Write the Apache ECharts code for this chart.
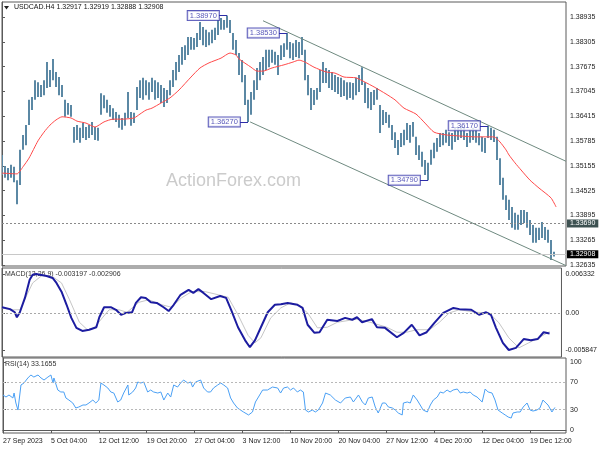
<!DOCTYPE html>
<html><head><meta charset="utf-8">
<script src="https://cdn.jsdelivr.net/npm/echarts@6/dist/echarts.min.js"></script>
<style>html,body{margin:0;padding:0;background:#fff}#c{width:600px;height:450px}</style>
</head><body><div id="c"></div>
<script>
const symbolTitle = 'USDCAD.H4 1.32917 1.32919 1.32888 1.32908';
const macdTitle = 'MACD(12,26,9) -0.003197 -0.002906';
const rsiTitle = 'RSI(14) 33.1655';
const watermark = 'ActionForex.com';
const xTickLabels = ['27 Sep 2023','5 Oct 04:00','12 Oct 12:00','19 Oct 20:00','27 Oct 04:00','3 Nov 12:00','10 Nov 20:00','20 Nov 04:00','27 Nov 12:00','4 Dec 20:00','12 Dec 04:00','19 Dec 12:00'];
const barsPerLabel = 16;
const priceTicks = [1.38935,1.38305,1.37675,1.37045,1.36415,1.35785,1.35155,1.34525,1.33895,1.33265,1.32635];
const macdTicks = [0.006332, 0, -0.005847];
const rsiTicks = [100, 70, 30, 0];

const highs = [
1.3543,1.3515,1.3510,1.3518,1.3513,1.3479,1.3556,1.3594,1.3619,1.3683,
1.3690,1.3733,1.3728,1.3721,1.3733,1.3779,1.3759,1.3787,1.3754,1.3741,
1.3721,1.3683,1.3675,1.3670,1.3614,1.3619,1.3612,1.3624,1.3614,1.3619,
1.3627,1.3614,1.3612,1.3700,1.3695,1.3683,1.3670,1.3662,1.3652,1.3645,
1.3637,1.3650,1.3703,1.3652,1.3650,1.3716,1.3733,1.3739,1.3733,1.3728,
1.3739,1.3733,1.3728,1.3721,1.3713,1.3708,1.3733,1.3759,1.3779,1.3797,
1.3817,1.3822,1.3843,1.3843,1.3840,1.3853,1.3881,1.3868,1.3861,1.3855,
1.3861,1.3866,1.3886,1.3891,1.3886,1.3897,1.3886,1.3853,1.3835,1.3802,
1.3784,1.3746,1.3683,1.3703,1.3733,1.3764,1.3779,1.3792,1.3810,1.3810,
1.3810,1.3805,1.3797,1.3822,1.3827,1.3853,1.3830,1.3827,1.3835,1.3830,
1.3843,1.3810,1.3746,1.3713,1.3708,1.3713,1.3759,1.3779,1.3764,1.3759,
1.3754,1.3746,1.3741,1.3739,1.3733,1.3728,1.3728,1.3726,1.3739,1.3746,
1.3766,1.3728,1.3713,1.3703,1.3708,1.3713,1.3670,1.3657,1.3652,1.3645,
1.3619,1.3601,1.3581,1.3599,1.3607,1.3624,1.3619,1.3627,1.3589,1.3568,
1.3551,1.3530,1.3523,1.3556,1.3574,1.3586,1.3599,1.3599,1.3607,1.3601,
1.3599,1.3612,1.3614,1.3617,1.3614,1.3599,1.3607,1.3612,1.3607,1.3599,
1.3589,1.3586,1.3617,1.3612,1.3607,1.3589,1.3535,1.3485,1.3441,1.3429,
1.3411,1.3396,1.3391,1.3403,1.3403,1.3398,1.3378,1.3365,1.3358,1.3358,
1.3373,1.3360,1.3353,1.3327,1.3297];
const lows = [
1.3492,1.3485,1.3479,1.3485,1.3474,1.3418,1.3467,1.3556,1.3568,1.3619,
1.3657,1.3683,1.3690,1.3690,1.3695,1.3713,1.3716,1.3733,1.3716,1.3695,
1.3690,1.3640,1.3645,1.3640,1.3574,1.3581,1.3574,1.3586,1.3581,1.3586,
1.3594,1.3581,1.3579,1.3645,1.3662,1.3650,1.3640,1.3632,1.3627,1.3612,
1.3607,1.3617,1.3637,1.3617,1.3624,1.3657,1.3688,1.3683,1.3695,1.3683,
1.3703,1.3683,1.3688,1.3675,1.3665,1.3675,1.3695,1.3716,1.3733,1.3754,
1.3772,1.3784,1.3797,1.3810,1.3810,1.3817,1.3835,1.3822,1.3817,1.3822,
1.3827,1.3835,1.3848,1.3861,1.3861,1.3866,1.3853,1.3810,1.3797,1.3746,
1.3728,1.3670,1.3627,1.3645,1.3683,1.3708,1.3733,1.3746,1.3759,1.3766,
1.3777,1.3772,1.3746,1.3784,1.3792,1.3810,1.3789,1.3784,1.3792,1.3789,
1.3797,1.3733,1.3695,1.3657,1.3670,1.3683,1.3703,1.3726,1.3726,1.3713,
1.3708,1.3703,1.3698,1.3690,1.3693,1.3683,1.3688,1.3683,1.3695,1.3703,
1.3721,1.3675,1.3662,1.3657,1.3670,1.3683,1.3599,1.3619,1.3624,1.3612,
1.3581,1.3561,1.3543,1.3563,1.3568,1.3581,1.3574,1.3589,1.3543,1.3530,
1.3513,1.3492,1.3479,1.3518,1.3535,1.3551,1.3563,1.3568,1.3574,1.3566,
1.3556,1.3576,1.3581,1.3586,1.3581,1.3563,1.3574,1.3581,1.3574,1.3568,
1.3551,1.3548,1.3586,1.3581,1.3576,1.3530,1.3467,1.3429,1.3403,1.3378,
1.3358,1.3353,1.3353,1.3365,1.3370,1.3358,1.3340,1.3320,1.3320,1.3327,
1.3332,1.3327,1.3320,1.3276,1.3285];

const maPoints = [[0,1.3497],[5,1.3495],[7,1.3513],[9,1.3535],[12,1.3579],[14,1.3601],[16,1.3619],[18,1.3632],[20,1.3640],[23,1.3637],[25,1.3629],[28,1.3624],[31,1.3614],[34,1.3627],[37,1.3634],[40,1.3634],[44,1.3637],[46,1.3647],[48,1.3657],[50,1.3662],[53,1.3675],[56,1.3688],[59,1.3708],[63,1.3741],[66,1.3764],[69,1.3777],[73,1.3789],[76,1.3802],[78,1.3797],[79,1.3787],[83,1.3766],[85,1.3756],[87,1.3756],[90,1.3764],[94,1.3772],[97,1.3779],[99,1.3784],[101,1.3779],[104,1.3766],[108,1.3754],[111,1.3751],[114,1.3741],[118,1.3739],[121,1.3728],[124,1.3716],[128,1.3698],[131,1.3683],[134,1.3662],[138,1.3647],[141,1.3624],[144,1.3601],[148,1.3594],[153,1.3591],[158,1.3589],[164,1.3589],[166,1.3576],[168,1.3556],[169,1.3543],[171,1.3523],[173,1.3505],[176,1.3479],[179,1.3459],[183,1.3434],[184.7,1.3411]];

const upperChannel = [[87,1.3884],[188,1.3527]];
const lowerChannel = [[82.7,1.3627],[188,1.3262]];
const levelDashed = 1.33690;
const lastPrice = 1.32908;
const annotBars = [75, 95, 82, 142, 162];
const annotPrices = [1.38970, 1.38530, 1.36270, 1.34790, 1.36170];

const macdMain = [[0,0.0010],[2.7,0.0007],[4.3,0.0002],[5,-0.0006],[6,0.0002],[7.7,0.0025],[9.3,0.0054],[10.3,0.0062],[11.5,0.006332],[12.7,0.0062],[15,0.0060],[17,0.0057],[18.3,0.0049],[20,0.0035],[21.7,0.0014],[23.3,-0.0007],[25,-0.0023],[27,-0.0028],[29.3,-0.0026],[31.7,-0.0022],[32.7,-0.0006],[34.3,0.0010],[36.7,0.0010],[38.3,0.0006],[40,-0.0002],[41.7,0.0001],[43.7,0.0002],[45,0.0017],[46.7,0.0026],[48.3,0.0025],[50,0.0018],[52,0.0017],[54.3,0.0010],[56,0.0004],[57.7,0.0014],[60,0.0030],[62.7,0.0038],[64.3,0.0033],[66,0.0039],[67.7,0.0033],[70.3,0.0023],[73.3,0.0028],[75.3,0.0025],[77,0.0006],[79.3,-0.0022],[81.7,-0.0043],[83.3,-0.0054],[85,-0.0043],[87,-0.0022],[89.3,0.0002],[91.7,0.0014],[93.7,0.0015],[96,0.0017],[98.3,0.0015],[99.3,0.0014],[101,0.0009],[102.7,-0.0018],[105,-0.0031],[106.7,-0.0030],[109.3,-0.0010],[112.7,-0.0012],[115.3,-0.0007],[117.7,-0.0010],[119.3,-0.0006],[121,-0.0014],[124.3,-0.0009],[126,-0.0022],[128.7,-0.0023],[132.7,-0.0038],[135,-0.0031],[137.7,-0.0018],[140.3,-0.0035],[142.7,-0.0030],[145.3,-0.0015],[148.3,0.0001],[151.7,0.0009],[153.7,0.0007],[157.7,0.0006],[160.3,-0.0002],[162.7,0.0002],[164.3,-0.0002],[166,-0.0023],[168.3,-0.0047],[170.3,-0.005847],[172.7,-0.0055],[175.3,-0.0041],[177.7,-0.0043],[180,-0.0041],[182,-0.0030],[184,-0.003197]];
const macdSignal = [[0,0.0009],[3,0.0006],[6,0.0006],[10.3,0.0049],[13.7,0.0062],[17,0.0059],[20,0.0049],[22.7,0.0022],[26,-0.0014],[28.7,-0.0026],[31,-0.0023],[33.7,-0.0007],[36,0.0006],[39.3,0.0006],[42,0.0002],[46,0.0018],[49.3,0.0022],[53.7,0.0014],[57,0.0010],[60.3,0.0025],[63.7,0.0035],[68.3,0.0035],[72.7,0.0030],[76,0.0026],[79.3,-0.0002],[82.7,-0.0035],[85,-0.0047],[87,-0.0039],[90.3,-0.0007],[93.7,0.0009],[97,0.0017],[99.3,0.0014],[102.7,0.0001],[106,-0.0023],[109.3,-0.0022],[112.7,-0.0014],[119.3,-0.0009],[123.7,-0.0014],[129.3,-0.0022],[132.7,-0.0030],[136,-0.0030],[139.3,-0.0026],[143.7,-0.0026],[147,-0.0014],[150.3,0.0001],[153.7,0.0006],[159.3,0.0002],[163.7,0.0001],[167,-0.0015],[170.3,-0.0039],[173.7,-0.0055],[177,-0.0047],[180.3,-0.0039],[184,-0.002906]];

const rsiPoints = [[0,51.5],[1,48.5],[2,51.5],[3.3,47.1],[3.7,54.4],[4.3,39.7],[5,29.4],[6,66.2],[7,69.1],[8.3,76.5],[9.3,80.9],[10.3,77.9],[11.7,80.9],[12.7,76.5],[13.7,73.5],[15,77.9],[16,80.9],[16.7,69.1],[17,76.5],[18.3,58.8],[19.3,55.9],[20.3,55.9],[21,47.1],[22,44.1],[23.3,39.7],[24.3,32.4],[25.3,33.8],[26.7,36.8],[27.7,36.8],[28.7,39.7],[30,44.1],[31,39.7],[32,44.1],[32.7,69.1],[33.7,66.2],[35,61.8],[36,55.9],[37,54.4],[38.3,41.2],[39.3,44.1],[40.3,54.4],[41.7,66.2],[42,51.5],[43.3,55.9],[44.3,61.8],[45,70.6],[46,69.1],[47,70.6],[48.3,55.9],[49.3,58.8],[50.3,55.9],[51.7,54.4],[52.7,55.9],[53.7,44.1],[55,54.4],[56,48.5],[57,66.2],[58.3,63.2],[59.3,69.1],[60.3,73.5],[61.7,69.1],[62.7,70.6],[63.3,63.2],[64.3,70.6],[66,73.5],[67,61.8],[68.3,55.9],[69.3,55.9],[70.3,61.8],[71.7,66.2],[72.7,69.1],[73.7,66.2],[75,61.8],[76,47.1],[77,39.7],[78.3,32.4],[79.3,29.4],[80.3,26.5],[82,22.1],[83.3,26.5],[84.3,41.2],[85.3,48.5],[86.7,58.8],[88.3,58.8],[90,63.2],[91.7,61.8],[92.7,54.4],[93.7,61.8],[95,63.2],[96,58.8],[97,61.8],[98.3,55.9],[99.3,58.8],[100.3,55.9],[101,29.4],[102,26.5],[103.3,29.4],[104.3,26.5],[105.3,29.4],[106.7,39.7],[107.7,54.4],[109.3,51.5],[111,44.1],[112.7,39.7],[114.3,47.1],[116,48.5],[117,41.2],[118.7,51.5],[120,41.2],[121,36.8],[122,47.1],[123.3,48.5],[124.3,33.8],[125.3,25.0],[126.7,39.7],[127.7,39.7],[128.7,33.8],[130,32.4],[131,29.4],[132,25.0],[133.3,22.1],[133.7,39.7],[135,41.2],[136,39.7],[137,51.5],[138.3,44.1],[139.3,36.8],[140.3,29.4],[141.7,26.5],[142.7,36.8],[143.7,44.1],[145,48.5],[146,55.9],[147,54.4],[148.3,58.8],[149.3,55.9],[150.3,58.8],[151.7,60.3],[152.7,54.4],[153.7,55.9],[155,54.4],[156,55.9],[157,51.5],[158.3,48.5],[160,41.2],[161,60.3],[162,55.9],[163.3,54.4],[164.3,44.1],[165.3,29.4],[166.7,25.0],[167.7,22.1],[168.7,19.1],[169.7,17.6],[170.3,25.0],[171.7,26.5],[172.7,26.5],[173.7,33.8],[175,39.7],[176,29.4],[177,27.9],[178.3,29.4],[179.3,32.4],[180.3,44.1],[181.3,39.7],[182,36.8],[183.3,26.5],[184.3,33.17]];

const FONT = '"Liberation Sans", Arial, sans-serif';
const AX = '#5a5a5a';
const conn = 2.7;
const barData = highs.map((h, i) => [i, h, lows[i]]);

function yax(g, min, max, ticks, fmt) {
  return {type:'value', gridIndex:g, position:'right', min:min, max:max,
    axisLine:{show:true, lineStyle:{color:AX}},
    axisTick:{show:true, length:3, customValues:ticks, lineStyle:{color:AX}},
    axisLabel:{show:true, customValues:ticks, formatter:fmt, fontSize:7, color:'#222', margin:4, fontFamily:FONT},
    splitLine:{show:false}};
}
const dotted = c => ({color:c, type:[2,2], width:1});

const chart = echarts.init(document.getElementById('c'));
chart.setOption({
  animation:false,
  backgroundColor:'#fff',
  textStyle:{fontFamily:FONT},
  grid:[
    {left:2, right:34, top:2, height:264, show:true, borderColor:AX, borderWidth:1},
    {left:2, right:34, top:268, height:89, show:true, borderColor:AX, borderWidth:1},
    {left:2, right:34, top:358, height:75, show:true, borderColor:AX, borderWidth:1}
  ],
  xAxis:[0,1,2].map(g => ({type:'value', gridIndex:g, min:0, max:188, interval:barsPerLabel,
    axisLine:{show:g===2, lineStyle:{color:AX}},
    axisTick:{show:g===2, length:3, lineStyle:{color:AX}},
    axisLabel:{show:g===2, align:'left', margin:5, fontSize:7, color:'#222', fontFamily:FONT, showMaxLabel:false,
      formatter:v => { const k = v / barsPerLabel; return (Number.isInteger(k) && xTickLabels[k]) ? xTickLabels[k] : ''; }},
    splitLine:{show:false}})),
  yAxis:[
    yax(0, 1.32610, 1.39316, priceTicks, v => v.toFixed(5)),
    yax(1, -0.006969, 0.007294, macdTicks, v => Math.abs(v) < 1e-9 ? '0.00' : v.toFixed(6)),
    yax(2, -4.4, 105.9, rsiTicks, v => String(Math.round(v)))
  ],
  graphic:[
    {type:'text', left:166, top:172, z:-10, style:{text:watermark, fontSize:18, fontFamily:FONT, fill:'#cbcbcb'}},
    {type:'polygon', shape:{points:[[4,6],[9,6],[6.5,9.5]]}, style:{fill:'#222'}},
    {type:'text', left:14, top:4, style:{text:symbolTitle, fontSize:7, fontFamily:FONT, fill:'#111'}},
    {type:'text', left:5, top:271, z:0, style:{text:macdTitle, fontSize:7, fontFamily:FONT, fill:'#333'}},
    {type:'text', left:5, top:361, style:{text:rsiTitle, fontSize:7, fontFamily:FONT, fill:'#333'}}
  ],
  series:[
    {type:'custom', xAxisIndex:0, yAxisIndex:0, data:barData, encode:{x:0, y:[1,2]}, clip:true, z:2,
      renderItem:(p, api) => {
        const x = api.value(0);
        const a = api.coord([x, api.value(1)]);
        const b = api.coord([x, api.value(2)]);
        return {type:'rect', shape:{x:Math.round(a[0]) - 1, y:a[1], width:2, height:Math.max(1, b[1] - a[1])},
          style:{fill:'#5b88a4'}};
      }},
    {type:'line', xAxisIndex:0, yAxisIndex:0, data:maPoints, showSymbol:false, smooth:0.2, z:4,
      lineStyle:{color:'#ff4a4a', width:1}},
    {type:'line', xAxisIndex:0, yAxisIndex:0, data:upperChannel, showSymbol:false, z:3, clip:true,
      lineStyle:{color:'#6f8a80', width:1},
      markLine:{silent:true, symbol:['none','none'], animation:false, precision:5,
        data:[
          {yAxis:levelDashed, lineStyle:dotted('#8a8a8a'),
            label:{show:true, position:'end', distance:1, formatter:levelDashed.toFixed(5), backgroundColor:'#3e5252', color:'#fff', fontSize:7, fontFamily:FONT, padding:[1,3,0,3]}},
          {yAxis:lastPrice, lineStyle:{color:'#c8c8c8', type:'solid', width:1},
            label:{show:true, position:'end', distance:1, formatter:lastPrice.toFixed(5), backgroundColor:'#000', color:'#fff', fontSize:7, fontFamily:FONT, padding:[1,3,0,3]}}
        ]}},
    {type:'line', xAxisIndex:0, yAxisIndex:0, data:lowerChannel, showSymbol:false, z:3, clip:true,
      lineStyle:{color:'#6f8a80', width:1}},
    {type:'scatter', xAxisIndex:0, yAxisIndex:0, z:6, symbolSize:0.1, itemStyle:{color:'rgba(0,0,0,0)'},
      data:annotBars.map((b, i) => [b - conn, annotPrices[i]]),
      label:{show:true, position:'left', distance:0, formatter:p => annotPrices[p.dataIndex].toFixed(5),
        color:'#2d2da8', fontSize:7.5, fontFamily:FONT, backgroundColor:'#fff', borderColor:'#2d2da8', borderWidth:1, padding:[1,2,0,2]},
      markLine:{silent:true, symbol:['none','none'], animation:false, precision:5, label:{show:false},
        lineStyle:{color:'#2d2da8', width:1, type:'solid'},
        data:annotBars.map((b, i) => [{coord:[b - conn, annotPrices[i]]}, {coord:[b, annotPrices[i]]}])}},
    {type:'line', xAxisIndex:1, yAxisIndex:1, data:macdSignal, showSymbol:false, z:2,
      lineStyle:{color:'#c6c6c6', width:1}},
    {type:'line', xAxisIndex:1, yAxisIndex:1, data:macdMain, showSymbol:false, z:3,
      lineStyle:{color:'#1c1ca0', width:2},
      markLine:{silent:true, symbol:['none','none'], animation:false, precision:8, label:{show:false},
        data:[{yAxis:0, lineStyle:dotted('#a8a8a8')}]}},
    {type:'line', xAxisIndex:2, yAxisIndex:2, data:rsiPoints, showSymbol:false, z:3,
      lineStyle:{color:'#4aa0f5', width:1},
      markLine:{silent:true, symbol:['none','none'], animation:false, label:{show:false},
        data:[{yAxis:70, lineStyle:dotted('#b8b8b8')}, {yAxis:30, lineStyle:dotted('#b8b8b8')}]}}
  ]
});
</script></body></html>
